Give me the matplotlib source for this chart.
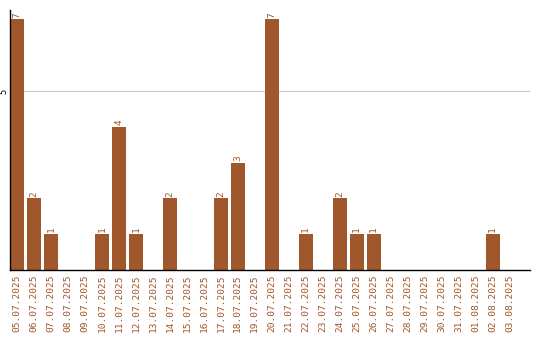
import matplotlib
matplotlib.use("Agg")
import matplotlib.pyplot as plt

dates = ["05.07.2025", "06.07.2025", "07.07.2025", "08.07.2025", "09.07.2025",
         "10.07.2025", "11.07.2025", "12.07.2025", "13.07.2025", "14.07.2025",
         "15.07.2025", "16.07.2025", "17.07.2025", "18.07.2025", "19.07.2025",
         "20.07.2025", "21.07.2025", "22.07.2025", "23.07.2025", "24.07.2025",
         "25.07.2025", "26.07.2025", "27.07.2025", "28.07.2025", "29.07.2025",
         "30.07.2025", "31.07.2025", "01.08.2025", "02.08.2025", "03.08.2025"]
counts = [7, 2, 1, 0, 0, 1, 4, 1, 0, 2, 0, 0, 2, 3, 0, 7, 0, 1, 0, 2,
          1, 1, 0, 0, 0, 0, 0, 0, 1, 0]

color = "#a0572b"
W, H = 540, 340
fig = plt.figure(figsize=(W / 100, H / 100), dpi=100)
ax = fig.add_axes([10 / W, (H - 270) / H, 520 / W, 260 / H])

x = list(range(len(dates)))
ax.bar(x, counts, width=0.82, color=color, zorder=2)
for xi, c in zip(x, counts):
    if c > 0:
        ax.text(xi, c + 0.05, str(c), rotation=90, ha="center", va="bottom",
                color=color, fontsize=6.8, family="DejaVu Sans Mono")

ax.set_xlim(-0.41, 30.2)
ax.set_ylim(0, 7.26)
ax.set_yticks([5])
ax.set_yticklabels(["5"], rotation=90, va="center", fontsize=6.2,
                   family="DejaVu Sans Mono")
ax.tick_params(axis="y", length=0, pad=1)
ax.grid(axis="y", color="#c8c8c8", linewidth=0.8, zorder=0)

ax.set_xticks(x)
ax.set_xticklabels(dates, rotation=90, fontsize=6.8, color=color,
                   family="DejaVu Sans Mono")
ax.tick_params(axis="x", length=0, pad=3)

for s in ["top", "right"]:
    ax.spines[s].set_visible(False)
ax.spines["left"].set_linewidth(1)
ax.spines["bottom"].set_linewidth(1)

fig.savefig("out.png", dpi=100)
